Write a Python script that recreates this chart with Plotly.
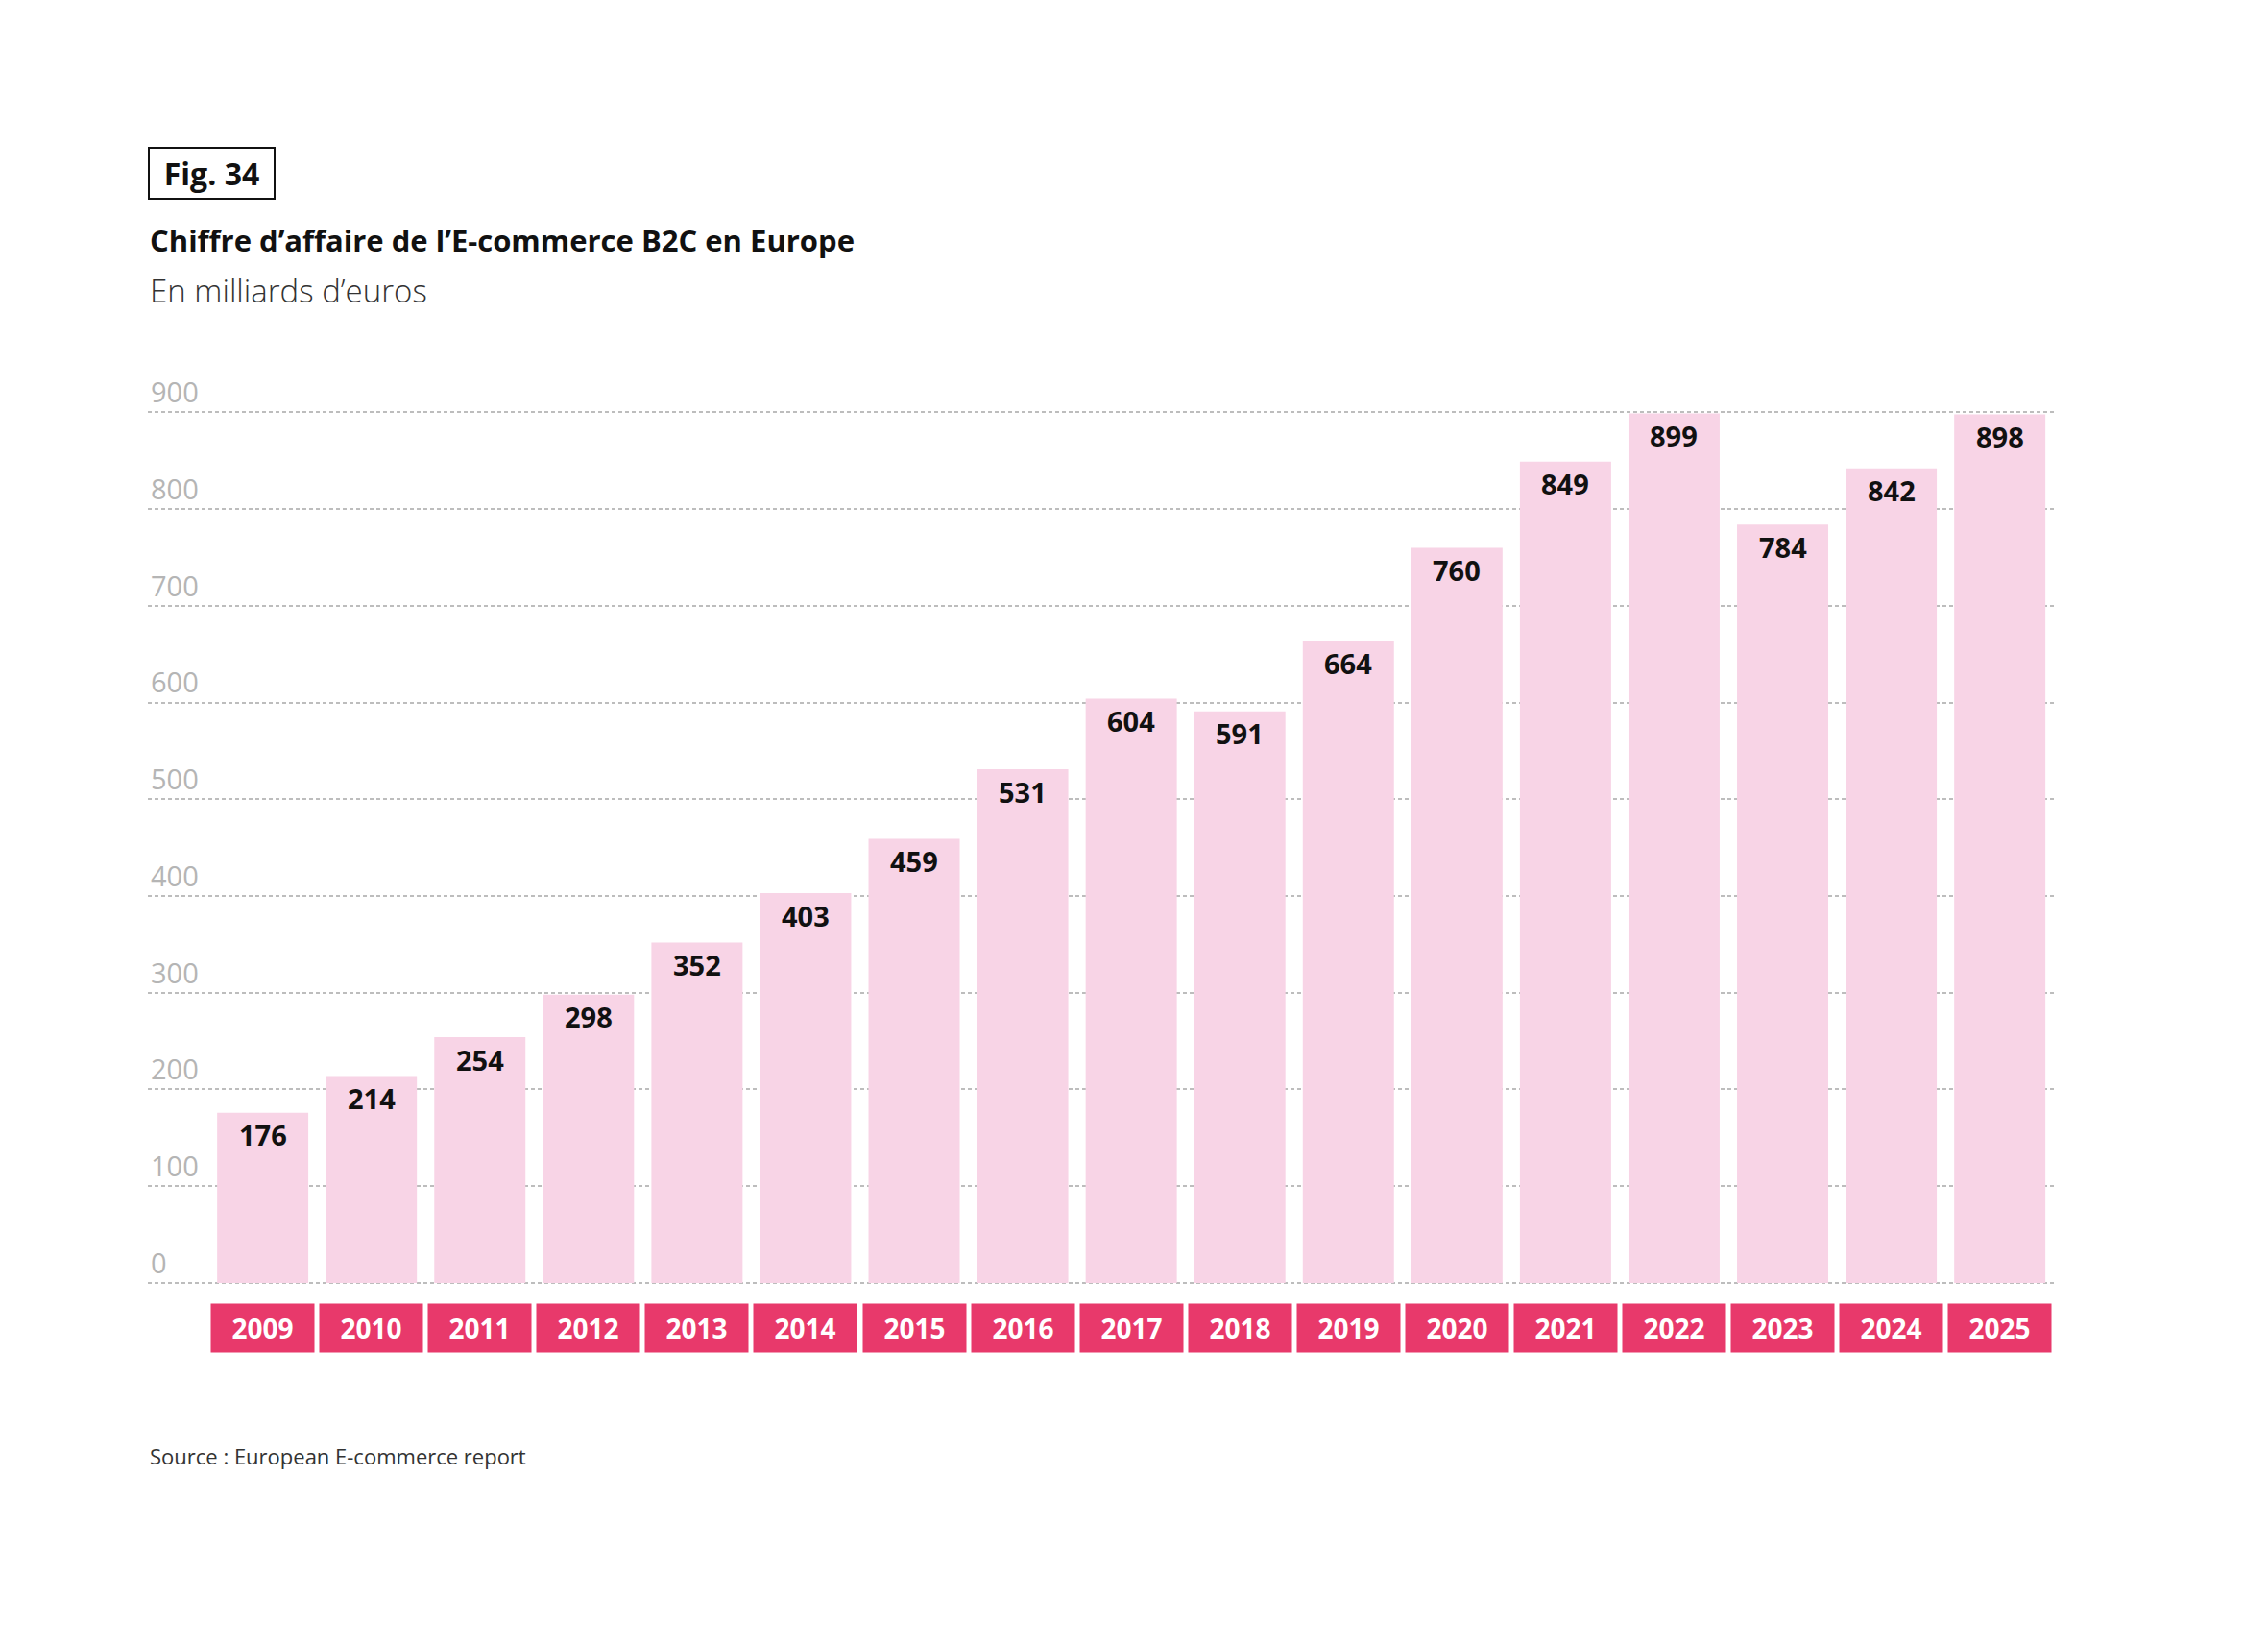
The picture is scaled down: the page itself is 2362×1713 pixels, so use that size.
import plotly.graph_objects as go

years = ["2009", "2010", "2011", "2012", "2013", "2014", "2015", "2016", "2017",
         "2018", "2019", "2020", "2021", "2022", "2023", "2024", "2025"]
values = [176, 214, 254, 298, 352, 403, 459, 531, 604, 591, 664, 760, 849, 899, 784, 842, 898]
y_ticks = [0, 100, 200, 300, 400, 500, 600, 700, 800, 900]

title = "Chiffre d’affaire de l’E-commerce B2C en Europe"
subtitle = "En milliards d’euros"
fig_label = "Fig. 34"
source = "Source : European E-commerce report"

W, H = 2362, 1713
left, right = 146, 2133
unit = (1327.7 - 421.7) / 900.0
y_lo, y_hi = -10, 960
bottom = 1327.7 + (0 - y_lo) * unit
top = 421.7 - (y_hi - 900) * unit
plot_h = bottom - top

def py(pix):
    return (bottom - pix) / plot_h

FONT = "Open Sans"
fig = go.Figure()
fig.add_trace(go.Bar(
    x=years, y=values,
    marker=dict(color="#F8D4E6", line=dict(width=0)),
    hoverinfo="skip",
))

annotations = []
for i, (yr, v) in enumerate(zip(years, values)):
    annotations.append(dict(
        x=i, y=v, xref="x", yref="y", text=str(v), showarrow=False,
        yanchor="middle", yshift=-23,
        font=dict(family=FONT, size=29, color="#111111", weight=700),
    ))
    annotations.append(dict(
        x=i, y=py(1375), xref="x", yref="paper", text=yr, showarrow=False,
        xanchor="center", yanchor="middle", width=107, height=50,
        bgcolor="#E8396B", borderpad=0,
        font=dict(family=FONT, size=28, color="white", weight=700),
    ))

annotations += [
    dict(x=0, y=py(173), xref="paper", yref="paper", text=fig_label, showarrow=False,
         xanchor="left", yanchor="middle", width=129, height=51, borderpad=0,
         bordercolor="#111111", borderwidth=2,
         font=dict(family=FONT, size=32, color="#111111", weight=700)),
    dict(x=0, y=py(242), xref="paper", yref="paper", text=title, showarrow=False,
         xanchor="left", yanchor="middle",
         font=dict(family=FONT, size=31, color="#111111", weight=700)),
    dict(x=0, y=py(295), xref="paper", yref="paper", text=subtitle, showarrow=False,
         xanchor="left", yanchor="middle",
         font=dict(family=FONT, size=33, color="#333333", weight=300)),
    dict(x=0, y=py(1508), xref="paper", yref="paper", text=source, showarrow=False,
         xanchor="left", yanchor="middle",
         font=dict(family=FONT, size=22, color="#333333", weight=400)),
]

fig.update_layout(
    width=W, height=H,
    margin=dict(l=left, r=W - right, t=top, b=H - bottom, pad=0),
    paper_bgcolor="white", plot_bgcolor="white",
    showlegend=False,
    bargap=0.16,
    annotations=annotations,
    xaxis=dict(type="category", range=[-1.058, 16.516], showticklabels=False,
               showgrid=False, zeroline=False, showline=False, ticks=""),
    yaxis=dict(range=[y_lo, y_hi], tickvals=y_ticks, ticktext=[str(t) for t in y_ticks],
               ticklabelposition="inside top", showgrid=True, gridcolor="#bdbdbd",
               gridwidth=1.5, griddash="4px,3px", zeroline=False, showline=False,
               ticks="", tickfont=dict(family=FONT, size=29, color="#b5b5b5")),
)

fig.write_html("out.html")
